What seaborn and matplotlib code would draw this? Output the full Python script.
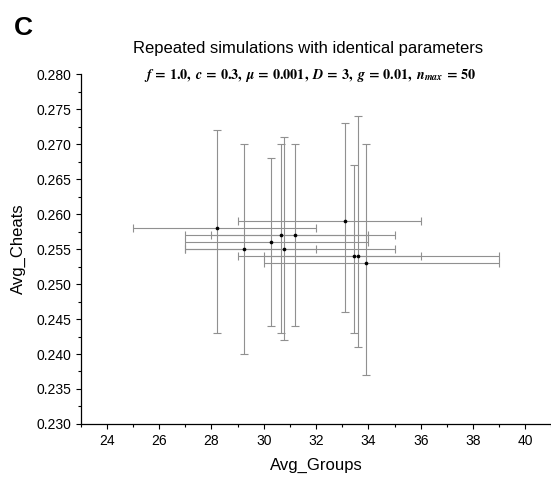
import matplotlib
matplotlib.use("Agg")
import matplotlib.pyplot as plt
from matplotlib.ticker import MultipleLocator, FormatStrFormatter
import seaborn as sns
import numpy as np
import pandas as pd

# ---- data ----
avg_groups = [28.22, 29.25, 30.27, 30.66, 31.18, 30.77, 33.10, 33.46, 33.60, 33.89]
avg_cheats = [0.258, 0.255, 0.256, 0.257, 0.257, 0.255, 0.259, 0.254, 0.254, 0.253]
groups_min = [25, 27, 27, 27, 28, 27, 29, 29, 30, 30]
groups_max = [32, 32, 34, 34, 35, 35, 36, 36, 39, 39]
cheats_min = [0.243, 0.240, 0.244, 0.243, 0.244, 0.242, 0.246, 0.243, 0.241, 0.237]
cheats_max = [0.272, 0.270, 0.268, 0.270, 0.270, 0.271, 0.273, 0.267, 0.274, 0.270]
x_ticks = [24, 26, 28, 30, 32, 34, 36, 38, 40]
y_ticks = [0.230, 0.235, 0.240, 0.245, 0.250, 0.255, 0.260, 0.265, 0.270, 0.275, 0.280]

df = pd.DataFrame({"Avg_Groups": avg_groups, "Avg_Cheats": avg_cheats,
                   "gmin": groups_min, "gmax": groups_max,
                   "cmin": cheats_min, "cmax": cheats_max})

sns.set_style("ticks")
plt.rcParams["font.family"] = ["Liberation Sans", "DejaVu Sans"]
plt.rcParams["mathtext.fontset"] = "stix"
for key in ["text.color", "axes.labelcolor", "xtick.color", "ytick.color"]:
    plt.rcParams[key] = "black"

fig = plt.figure(figsize=(5.51, 4.80), dpi=100)
ax = fig.add_axes([0.1465, 0.1167, 0.8543, 0.729])

xerr = np.vstack([df["Avg_Groups"] - df["gmin"], df["gmax"] - df["Avg_Groups"]])
yerr = np.vstack([df["Avg_Cheats"] - df["cmin"], df["cmax"] - df["Avg_Cheats"]])
ax.errorbar(df["Avg_Groups"], df["Avg_Cheats"], xerr=xerr, yerr=yerr,
            fmt="none", ecolor="#909090", elinewidth=0.8, capsize=2.6,
            capthick=0.8, zorder=2)
sns.scatterplot(data=df, x="Avg_Groups", y="Avg_Cheats", ax=ax, color="black",
                marker="o", s=7, linewidth=0, zorder=3)

ax.set_xlim(23, 41)
ax.set_ylim(0.230, 0.280)
ax.set_xticks(x_ticks)
ax.set_yticks(y_ticks)
ax.xaxis.set_minor_locator(MultipleLocator(1))
ax.yaxis.set_minor_locator(MultipleLocator(0.0025))
ax.yaxis.set_major_formatter(FormatStrFormatter("%.3f"))
ax.tick_params(axis="both", which="major", direction="out", length=3.5,
               width=0.8, labelsize=10, color="black", labelcolor="black", pad=3)
ax.tick_params(axis="x", which="major", pad=4)
ax.tick_params(axis="both", which="minor", direction="out", length=2,
               width=0.8, color="black")
for side in ["top", "right"]:
    ax.spines[side].set_visible(False)
for side in ["left", "bottom"]:
    ax.spines[side].set_linewidth(0.9)
    ax.spines[side].set_color("black")

ax.set_xlabel("Avg_Groups", fontsize=12, labelpad=7, color="black")
ax.set_ylabel("Avg_Cheats", fontsize=12, labelpad=8, color="black")

fig.text(0.026, 0.942, "C", fontsize=19, fontweight="bold", ha="left",
         va="center", color="black")
fig.text(0.559, 0.899, "Repeated simulations with identical parameters",
         fontsize=12, ha="center", va="center", color="black")
sub = (r"$\mathbfit{f}\,\mathbf{=\,1.0,}\ \mathbfit{c}\,\mathbf{=\,0.3,}\ "
       r"\mathbfit{\mu}\,\mathbf{=\,0.001,}\ \mathbfit{D}\,\mathbf{=\,3,}\ "
       r"\mathbfit{g}\,\mathbf{=\,0.01,}\ \mathbfit{n}_{\mathbfit{max}}\,\mathbf{=\,50}$")
fig.text(0.562, 0.843, sub, fontsize=10.2, ha="center", va="center", color="black")

fig.savefig("out.png", dpi=100)
